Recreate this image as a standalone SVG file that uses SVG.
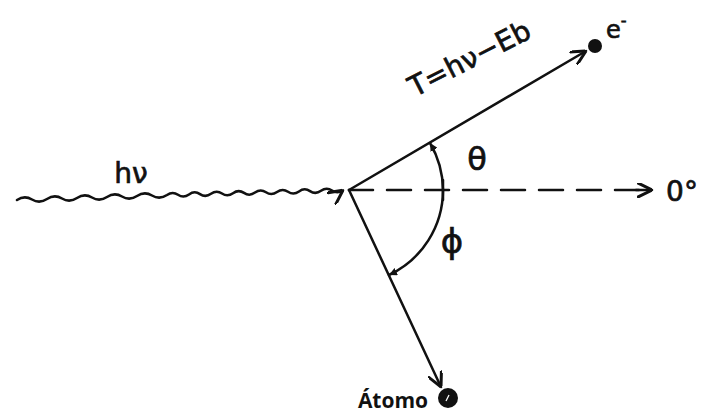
<svg xmlns="http://www.w3.org/2000/svg" width="701" height="416" viewBox="0 0 701 416">
<defs>
<style>
.ln{fill:none;stroke:#111;stroke-width:2.5;stroke-linecap:round}
.hand{font-family:"DejaVu Sans","Liberation Sans",sans-serif;fill:#111;stroke:#111;stroke-width:0.7}
</style>
<marker id="chev" viewBox="0 0 10 10" refX="10" refY="5" markerWidth="15" markerHeight="15" markerUnits="userSpaceOnUse" orient="auto">
<path d="M0,0 L10,5 L0,10" fill="none" stroke="#111" stroke-width="2"/>
</marker>
<marker id="tick" viewBox="0 0 10 10" refX="10" refY="5" markerWidth="8" markerHeight="8" markerUnits="userSpaceOnUse" orient="auto">
<path d="M0,0 L10,5 L0,10 Z" fill="#111"/>
</marker>
</defs>
<rect width="701" height="416" fill="#ffffff"/>
<g id="connectors">
<path class="ln" d="M17,200 q7.5,-5 15,-0.5 t15,-0.5 t15,-0.5 t15,-0.5 t15,-0.5 t15,-0.5 t15,-0.5 t15,-0.5 t15,-0.5 t15,-0.5 q5.5,-4 11,-0.3 t11,-0.3 t11,-0.3 t11,-0.3 t11,-0.3 t11,-0.3 t11,-0.3 t11,-0.3 t11,-0.3 t11,-0.3 t11,-0.3 t11,-0.3 t11,-0.3 t11,-0.3 t11,-0.3 t11,-0.3" marker-end="url(#chev)"/>
<path class="ln" d="M349,190 L640,190" stroke-dasharray="24,14" stroke-linecap="butt"/>
<path class="ln" d="M636,190 L652,190" marker-end="url(#chev)"/>
<path class="ln" d="M349,190 L586,51" marker-end="url(#chev)"/>
<path class="ln" d="M349,190 L441,387" marker-end="url(#chev)"/>
<path class="ln" d="M443,190 A94,94 0 0 0 430,143" marker-end="url(#tick)"/>
<path class="ln" d="M443,190 A94,94 0 0 1 389,275" marker-end="url(#tick)"/>
<path class="ln" d="M443,180 L443,200"/>
</g>
<g id="electron">
<circle cx="595" cy="46" r="7" fill="#111"/>
<text class="hand" x="606" y="38" font-size="24">e<tspan font-size="16" dy="-12">-</tspan></text>
</g>
<g id="atom">
<circle cx="448" cy="398" r="10" fill="#111"/>
<path d="M449,395 L446,401" stroke="#fff" stroke-width="1.2"/>
<text x="393" y="408" font-family="Open Sans, Liberation Sans, sans-serif" font-weight="bold" font-size="21" text-anchor="middle" fill="#111">Átomo</text>
</g>
<g id="labels">
<text class="hand" transform="translate(474,67) rotate(-27)" font-size="28" text-anchor="middle">T=hν−Eb</text>
<text class="hand" x="131" y="183" font-size="28" text-anchor="middle">hν</text>
<text class="hand" x="477" y="170" font-size="32" text-anchor="middle">θ</text>
<text class="hand" x="452" y="253" font-size="34" text-anchor="middle">ϕ</text>
<text class="hand" x="682" y="201" font-size="28" text-anchor="middle">0°</text>
</g>
</svg>
